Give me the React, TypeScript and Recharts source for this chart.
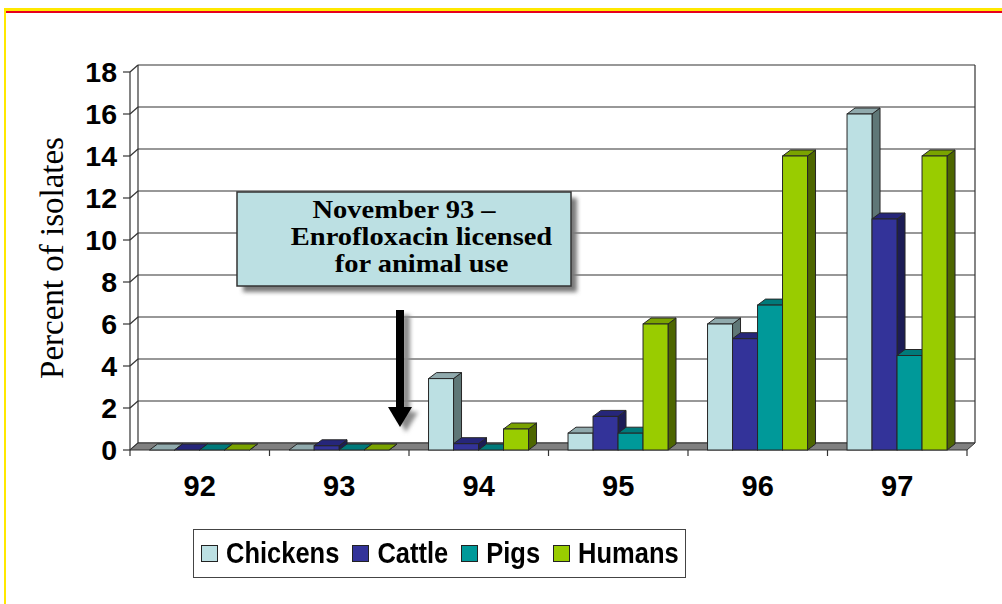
import React from "react";
import { BarChart, Bar, XAxis, YAxis, CartesianGrid, ReferenceArea } from "recharts";

const years = ["92", "93", "94", "95", "96", "97"];
const chickens = [0, 0, 3.4, 0.8, 6, 16];
const cattle = [0, 0.2, 0.3, 1.6, 5.3, 11];
const pigs = [0, 0, 0, 0.8, 6.9, 4.5];
const humans = [0, 0, 1, 6, 14, 14];
const yTicks = [0, 2, 4, 6, 8, 10, 12, 14, 16, 18];

const seriesNames = ["Chickens", "Cattle", "Pigs", "Humans"];
const seriesKeys = ["chickens", "cattle", "pigs", "humans"];
const frontColors = ["#BCE0E3", "#333399", "#009999", "#99CC00"];
const topColors = ["#90AAAD", "#26267A", "#007A7A", "#7AA300"];
const sideColors = ["#5F7777", "#1C1C55", "#005C5C", "#4D6600"];

const annotationLines = ["November 93 \u2013", "Enrofloxacin licensed", "for animal use"];

const data = years.map((y, i) => ({
  year: y,
  chickens: chickens[i],
  cattle: cattle[i],
  pigs: pigs[i],
  humans: humans[i],
}));

const SANS = "'Liberation Sans', Arial, sans-serif";
const SERIF = "'Liberation Serif', 'Times New Roman', serif";
const WX = 8;
const WY = 7;
const EDGE = "#262626";

const make3D = (idx: number) => (props: any) => {
  const { x, y, width: w, height: h } = props;
  if (x == null || y == null) return <g />;
  const dx = 8;
  const dy = 6;
  return (
    <g>
      <polygon
        points={`${x + w},${y} ${x + w + dx},${y - dy} ${x + w + dx},${y + h - dy} ${x + w},${y + h}`}
        fill={sideColors[idx]}
        stroke={EDGE}
        strokeWidth={1}
        strokeLinejoin="round"
      />
      <polygon
        points={`${x},${y} ${x + dx},${y - dy} ${x + w + dx},${y - dy} ${x + w},${y}`}
        fill={topColors[idx]}
        stroke={EDGE}
        strokeWidth={1}
        strokeLinejoin="round"
      />
      {h > 0.5 && <rect x={x} y={y} width={w} height={h} fill={frontColors[idx]} stroke={EDGE} strokeWidth={1} />}
    </g>
  );
};

const WallShape = (props: any) => {
  const { x, y, width: w, height: h } = props;
  const bottom = y + h;
  const n = years.length;
  const ticks = [];
  for (let i = 0; i <= n; i++) {
    const tx = x + (i * w) / n;
    ticks.push(<line key={i} x1={tx} y1={bottom} x2={tx} y2={bottom + 6} stroke="#333" strokeWidth={1.2} />);
  }
  return (
    <g>
      <line x1={x + WX} y1={y - WY} x2={x + WX} y2={bottom - WY} stroke="#333" strokeWidth={1.2} />
      <line x1={x + w + WX} y1={y - WY} x2={x + w + WX} y2={bottom - WY} stroke="#333" strokeWidth={1.2} />
      <polygon
        points={`${x},${bottom} ${x + w},${bottom} ${x + w + WX},${bottom - WY} ${x + WX},${bottom - WY}`}
        fill="#808080"
        stroke="#333"
        strokeWidth={1}
      />
      {ticks}
    </g>
  );
};

const gridLine = (p: any) => {
  const { x1, y1, x2 } = p;
  return (
    <g key={`g-${p.index}-${y1}`}>
      <line x1={x1} y1={y1} x2={x1 + WX} y2={y1 - WY} stroke="#333" strokeWidth={1.2} />
      <line x1={x1 + WX} y1={y1 - WY} x2={x2 + WX} y2={y1 - WY} stroke="#333" strokeWidth={1.2} />
    </g>
  );
};

const XTick = (p: any) => {
  const { x, y, payload } = p;
  return (
    <text x={x} y={y + 46} textAnchor="middle" fontFamily={SANS} fontWeight={700} fontSize={29} fill="#000">
      {payload.value}
    </text>
  );
};

const AnnLine = ({ cx, by, text }: { cx: number; by: number; text: string }) => (
  <text
    transform={`translate(${cx},${by}) scale(1.14,1)`}
    x={0}
    y={0}
    textAnchor="middle"
    fontFamily={SERIF}
    fontWeight={700}
    fontSize={25}
    fill="#000"
  >
    {text}
  </text>
);

export default function App() {
  return (
    <div style={{ position: "absolute", left: 0, top: 0, width: 1002, height: 604, background: "#fff", overflow: "hidden" }}>
      <div style={{ position: "absolute", left: 4, top: 8, right: 0, height: 3, background: "#FFE800" }} />
      <div style={{ position: "absolute", left: 5, top: 11, right: 0, height: 1.5, background: "#E8001C" }} />
      <div style={{ position: "absolute", left: 4, top: 8, width: 2, bottom: 0, background: "#FFE800" }} />
      <div style={{ position: "absolute", left: 0, top: 0 }}>
        <BarChart
          width={1002}
          height={604}
          data={data}
          margin={{ top: 72, right: 35, bottom: 94, left: 0 }}
          barCategoryGap="14%"
          barGap={0}
        >
          <CartesianGrid horizontal={gridLine} vertical={false} />
          <ReferenceArea y1={0} y2={18} ifOverflow="visible" shape={WallShape} />
          <XAxis
            dataKey="year"
            height={60}
            tickLine={false}
            axisLine={false}
            tickSize={0}
            tickMargin={0}
            tick={XTick}
            interval={0}
          />
          <YAxis
            width={130}
            domain={[0, 18]}
            ticks={yTicks}
            interval={0}
            tickSize={7}
            tickMargin={6}
            axisLine={{ stroke: "#333", strokeWidth: 1.2 }}
            tickLine={{ stroke: "#333", strokeWidth: 1.2 }}
            tick={{ fontFamily: SANS, fontWeight: 700, fontSize: 28.5, fill: "#000" }}
          />
          {seriesKeys.map((k, i) => (
            <Bar key={k} dataKey={k} name={seriesNames[i]} fill={frontColors[i]} shape={make3D(i)} isAnimationActive={false} />
          ))}
        </BarChart>
      </div>
      <svg width={1002} height={604} style={{ position: "absolute", left: 0, top: 0, pointerEvents: "none" }}>
        <defs>
          <filter id="blur" x="-20%" y="-20%" width="140%" height="140%">
            <feGaussianBlur stdDeviation="2" />
          </filter>
        </defs>
        <text transform="translate(63,258) rotate(-90)" textAnchor="middle" fontFamily={SERIF} fontSize={33} fill="#000">
          Percent of isolates
        </text>
        <rect x={243} y={198} width={334} height={94} fill="#7a7a7a" filter="url(#blur)" />
        <rect x={237} y={192} width={334} height={94} fill="#BCE0E3" stroke="#333" strokeWidth={1.5} />
        <AnnLine cx={404} by={218} text={annotationLines[0]} />
        <AnnLine cx={421.5} by={245} text={annotationLines[1]} />
        <AnnLine cx={421.5} by={272} text={annotationLines[2]} />
        <g transform="translate(6,5)" filter="url(#blur)" fill="#8a8a8a">
          <rect x={396} y={310} width={8} height={97} />
          <polygon points="388,407 412,407 400,427" />
        </g>
        <rect x={396} y={310} width={8} height={97} fill="#000" />
        <polygon points="388,407 412,407 400,427" fill="#000" />
      </svg>
      <div
        style={{
          position: "absolute",
          left: 193,
          top: 529,
          width: 493,
          height: 49,
          boxSizing: "border-box",
          border: "1.5px solid #444",
          background: "#fff",
          display: "flex",
          alignItems: "center",
          paddingLeft: 7,
          fontFamily: SANS,
          fontWeight: 700,
          fontSize: 25.5,
          color: "#000",
          whiteSpace: "nowrap",
        }}
      >
        {seriesNames.map((n, i) => (
          <div key={n} style={{ display: "flex", alignItems: "center", marginRight: 13 }}>
            <div
              style={{
                width: 15,
                height: 15,
                background: frontColors[i],
                border: "1px solid #222",
                marginRight: 8,
              }}
            />
            <span style={{ display: "inline-block", transform: "scaleY(1.12)" }}>{n}</span>
          </div>
        ))}
      </div>
    </div>
  );
}
